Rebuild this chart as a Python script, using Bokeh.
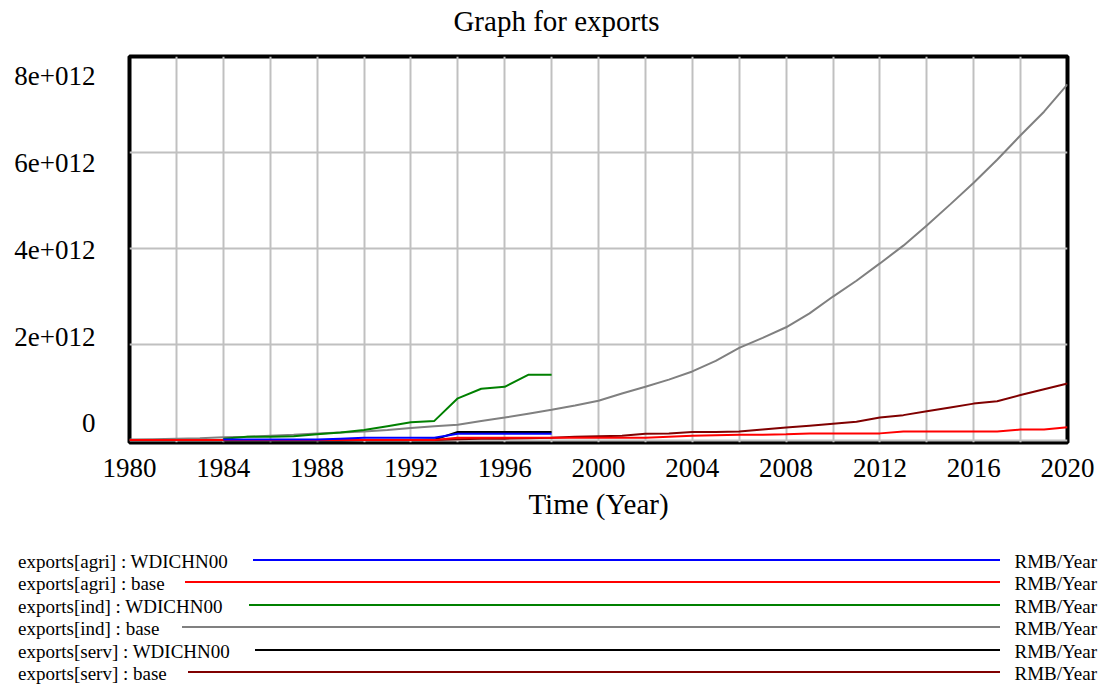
from bokeh.plotting import figure
from bokeh.models import (Range1d, LinearAxis, SingleIntervalTicker, FixedTicker,
                          CustomJSTickFormatter, ColumnDataSource, Label, Div)
from bokeh.layouts import column
from bokeh.embed import file_html
from bokeh.resources import INLINE

# ---------------- data (values in 1e12 RMB/Year) ----------------
years_base = list(range(1980, 2021))
years_wdi = list(range(1984, 1999))

agri_base = [0.01] * 14 + [0.06] * 9 + [0.08, 0.10, 0.11, 0.12, 0.12, 0.13, 0.15, 0.15, 0.15, 0.15,
                                       0.19, 0.19, 0.19, 0.19, 0.19, 0.23, 0.23, 0.28]
ind_base = [0.02, 0.03, 0.04, 0.05, 0.07, 0.08, 0.10, 0.12, 0.15, 0.17,
            0.19, 0.22, 0.26, 0.30, 0.33, 0.41, 0.48, 0.56, 0.64, 0.73,
            0.83, 0.98, 1.12, 1.27, 1.44, 1.66, 1.93, 2.14, 2.36, 2.65,
            3.00, 3.33, 3.69, 4.06, 4.48, 4.92, 5.37, 5.85, 6.36, 6.85, 7.42]
serv_base = [0.01] * 14 + [0.03, 0.04, 0.04, 0.05, 0.06, 0.08, 0.09, 0.10, 0.14, 0.15,
                           0.18, 0.18, 0.19, 0.23, 0.27, 0.31, 0.35, 0.39, 0.48, 0.53,
                           0.61, 0.69, 0.77, 0.82, 0.95, 1.07, 1.19]

agri_wdi = [0.02, 0.02, 0.02, 0.02, 0.02, 0.04, 0.06, 0.06, 0.06, 0.06, 0.14, 0.14, 0.14, 0.14, 0.14]
ind_wdi = [0.04, 0.08, 0.08, 0.09, 0.13, 0.17, 0.22, 0.30, 0.38, 0.41, 0.88, 1.08, 1.12, 1.37, 1.37]
serv_wdi = [0.0, 0.0, 0.0, 0.0, 0.0, 0.0, 0.01, 0.01, 0.01, 0.02, 0.18, 0.18, 0.18, 0.18, 0.18]

series_labels = ["exports[agri] : WDICHN00", "exports[agri] : base",
                 "exports[ind] : WDICHN00", "exports[ind] : base",
                 "exports[serv] : WDICHN00", "exports[serv] : base"]
series_colors = ["#0000ff", "#ff0000", "#008000", "#808080", "#000000", "#800000"]
series_x = [years_wdi, years_base, years_wdi, years_base, years_wdi, years_base]
series_y = [agri_wdi, agri_base, ind_wdi, ind_base, serv_wdi, serv_base]
unit_label = "RMB/Year"
title_text = "Graph for exports"
x_title = "Time (Year)"

y_ticks = [0, 2e12, 4e12, 6e12, 8e12]
SCALE = 1e12
FONT = "Liberation Serif"

# ---------------- layout geometry (pixels) ----------------
W = 1099
H_MAIN, H_LEG = 540, 148
FL, FR, FT, FB = 129, 1067, 56, 442          # frame edges
X0, X1 = 1980, 2020
Y0, Y1 = -0.04e12, 8e12


def px_x(px):
    return X0 + (px - FL) * (X1 - X0) / (FR - FL)


def px_y(py):
    return Y0 + (FB - py) * (Y1 - Y0) / (FB - FT)


p = figure(width=W, height=H_MAIN, output_backend="svg", toolbar_location=None,
           x_range=Range1d(X0, X1), y_range=Range1d(Y0, Y1),
           x_axis_location=None, y_axis_location=None,
           min_border_left=FL, min_border_right=W - FR, min_border_top=FT,
           min_border_bottom=H_MAIN - FB)
p.background_fill_color = "white"
p.border_fill_color = "white"
p.outline_line_color = "black"
p.outline_line_width = 4

p.xgrid.ticker = SingleIntervalTicker(interval=2)
p.ygrid.ticker = FixedTicker(ticks=y_ticks)
for g in (p.xgrid, p.ygrid):
    g.grid_line_color = "#c0c0c0"
    g.grid_line_width = 2

xa = LinearAxis(ticker=SingleIntervalTicker(interval=4), axis_label=x_title)
xa.axis_line_color = None
xa.major_tick_line_color = None
xa.minor_tick_line_color = None
xa.major_label_text_font = FONT
xa.major_label_text_font_size = "27px"
xa.major_label_text_color = "black"
xa.major_label_standoff = 10
xa.axis_label_text_font = FONT
xa.axis_label_text_font_size = "29px"
xa.axis_label_text_font_style = "normal"
xa.axis_label_text_color = "black"
xa.axis_label_standoff = 8
p.add_layout(xa, "below")

# Vensim spaces its value labels slightly inside the frame: label axis on its own range
p.extra_y_ranges = {"labels": Range1d(-0.4368e12, 8.437e12)}
ya = LinearAxis(y_range_name="labels", ticker=FixedTicker(ticks=y_ticks),
                formatter=CustomJSTickFormatter(
                    code="return tick == 0 ? '0' : (tick/1e12).toFixed(0) + 'e+012';"))
ya.axis_line_color = None
ya.major_tick_line_color = None
ya.minor_tick_line_color = None
ya.major_tick_out = 0
ya.major_label_text_font = FONT
ya.major_label_text_font_size = "27px"
ya.major_label_text_color = "black"
ya.major_label_standoff = 34
p.add_layout(ya, "left")

# draw last legend entry first (as Vensim does)
for xs, ys, c in reversed(list(zip(series_x, series_y, series_colors))):
    src = ColumnDataSource(dict(x=xs, y=[v * SCALE for v in ys]))
    p.line("x", "y", source=src, line_color=c, line_width=2)

# title (in the top border panel so it is not clipped to the frame)
p.add_layout(Label(x=px_x(556), y=px_y(20), text=title_text, text_align="center",
                   text_baseline="middle", text_font=FONT, text_font_size="29px",
                   text_color="black"), "above")

# ---------------- legend strip (HTML) ----------------
row_y = [560, 582.4, 604.8, 627.2, 649.6, 672]      # page y of each legend line
line_start = [253, 185, 249, 182, 255, 188]
parts = [f'<div style="position:relative;width:{W}px;height:{H_LEG}px;'
         f"font-family:'{FONT}';font-size:19px;line-height:19px;color:black;\">"]
for lab, col, ry, x0 in zip(series_labels, series_colors, row_y, line_start):
    top_txt = ry - H_MAIN - 8
    top_line = ry - H_MAIN - 1
    parts.append(f'<div style="position:absolute;left:18px;top:{top_txt:.1f}px;'
                 f'white-space:nowrap;">{lab}</div>')
    parts.append(f'<div style="position:absolute;left:{x0}px;top:{top_line:.1f}px;'
                 f'width:{1000 - x0}px;height:0;border-top:2px solid {col};"></div>')
    parts.append(f'<div style="position:absolute;right:2px;top:{top_txt:.1f}px;'
                 f'white-space:nowrap;">{unit_label}</div>')
parts.append("</div>")
leg = Div(text="".join(parts), width=W, height=H_LEG, margin=0)

layout = column(p, leg, spacing=0)
open("out.html", "w").write(file_html(layout, INLINE))
